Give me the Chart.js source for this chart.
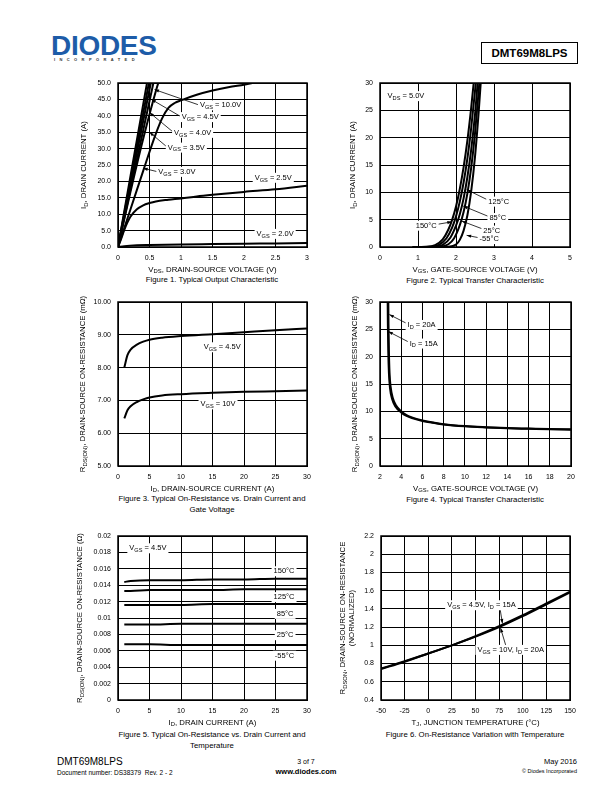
<!DOCTYPE html>
<html>
<head>
<meta charset="utf-8">
<script src="https://cdn.jsdelivr.net/npm/chart.js@4.4.0/dist/chart.umd.min.js"></script>
<style>
body{margin:0;background:#fff;font-family:"Liberation Sans",Arial,sans-serif;color:#000}
#page{position:relative;width:612px;height:792px;overflow:hidden;background:#fff}
canvas{position:absolute}
.t{position:absolute;white-space:nowrap}
.cap{position:absolute;font-size:7.8px;text-align:center;width:300px;line-height:11px;white-space:nowrap}
</style>
</head>
<body>
<div id="page">
  <div class="t" style="left:51px;top:32px;font-weight:bold;font-size:28px;line-height:28px;color:#1d5ca8;letter-spacing:-0.3px">DIODES</div>
  <div class="t" style="left:54px;top:57px;font-weight:bold;font-size:4px;line-height:5px;letter-spacing:4.4px;color:#333">INCORPORATED</div>
  <div class="t" style="left:481px;top:42px;width:95px;height:20px;border:1px solid #000;font-weight:bold;font-size:11.5px;line-height:20px;text-align:center">DMT69M8LPS</div>

  <div class="cap" style="left:62px;top:274px">Figure 1. Typical Output Characteristic</div>
  <div class="cap" style="left:325px;top:275px">Figure 2. Typical Transfer Characteristic</div>
  <div class="cap" style="left:62px;top:493px">Figure 3. Typical On-Resistance vs. Drain Current and<br>Gate Voltage</div>
  <div class="cap" style="left:325px;top:494px">Figure 4. Typical Transfer Characteristic</div>
  <div class="cap" style="left:62px;top:729px">Figure 5. Typical On-Resistance vs. Drain Current and<br>Temperature</div>
  <div class="cap" style="left:325px;top:729px">Figure 6. On-Resistance Variation with Temperature</div>

  <div class="t" style="left:57px;top:756px;font-size:10px;line-height:12px">DMT69M8LPS</div>
  <div class="t" style="left:57px;top:769px;font-size:6.5px;line-height:8px">Document number: DS38379&nbsp; Rev. 2 - 2</div>
  <div class="t" style="left:256px;width:100px;top:757px;font-size:7px;line-height:9px;text-align:center">3 of 7</div>
  <div class="t" style="left:256px;width:100px;top:767px;font-size:7.5px;line-height:10px;font-weight:bold;text-align:center">www.diodes.com</div>
  <div class="t" style="right:35px;top:757px;font-size:7.5px;line-height:10px">May 2016</div>
  <div class="t" style="right:35px;top:768px;font-size:5.5px;line-height:7px">© Diodes Incorporated</div>
</div>
<script>
// ---------- data ----------

// Figure 1: typical output characteristic, points are [VDS (V), ID (A)]
var outVgs10 = [[0,0],[0.2,21.8],[0.4,43.5],[0.5,54.3]];
var outVgs8 = [[0,0],[0.2,20.4],[0.4,40.8],[0.52,53]];
var outVgs45 = [[0,0],[0.2,19.2],[0.4,38.4],[0.55,52.8]];
var outVgs40 = [[0,0],[0.2,17.8],[0.4,35.6],[0.6,53.4]];
var outVgs35 = [[0,0],[0.2,17],[0.4,33],[0.6,47.5],[0.68,52.5]];
var outVgs30 = [[0,0],[0.1,5.8],[0.2,11.6],[0.3,17.4],[0.4,23.2],[0.5,29],[0.6,34.5],[0.7,39.2],[0.8,42.4],[0.9,43.9],[1.0,44.7],[1.25,46.4],[1.5,47.7],[1.75,48.7],[2.0,49.5],[2.2,50.2]];
var outVgs25 = [[0,0],[0.05,2.5],[0.1,5.2],[0.15,7.5],[0.2,9.3],[0.3,11.5],[0.4,12.7],[0.5,13.4],[0.6,13.9],[0.8,14.4],[1.0,14.8],[1.25,15.4],[1.5,15.9],[2.0,16.8],[2.5,17.6],[3.0,18.7]];
var outVgs20 = [[0,0],[0.1,0.25],[0.3,0.5],[0.5,0.6],[1.0,0.8],[1.5,0.9],[2.0,1.0],[2.5,1.1],[3.0,1.2]];

// Figure 2: typical transfer characteristic, [VGS (V), ID (A)]
var trn150 = [[0.85,0],[1.2,0.05],[1.45,0.35],[1.65,1.4],[1.8,3.2],[1.9,5.0],[2.0,7.4],[2.1,10.6],[2.2,14.6],[2.3,19.5],[2.4,25.5],[2.48,31]];
var trn125 = [[0.95,0],[1.3,0.05],[1.55,0.4],[1.75,1.6],[1.9,3.6],[2.0,5.6],[2.1,8.3],[2.2,11.8],[2.3,16.2],[2.4,21.8],[2.5,28.5],[2.54,31.5]];
var trn85 = [[1.05,0],[1.4,0.05],[1.65,0.4],[1.85,1.7],[2.0,3.9],[2.1,6.0],[2.2,8.9],[2.3,12.8],[2.4,17.8],[2.5,24.2],[2.58,31]];
var trn25 = [[1.2,0],[1.55,0.05],[1.8,0.5],[1.95,1.6],[2.1,4.0],[2.2,6.4],[2.3,9.8],[2.4,14.5],[2.5,20.8],[2.6,28.8],[2.63,31.5]];
var trnM55 = [[1.5,0],[1.8,0.05],[2.0,0.45],[2.1,1.3],[2.2,3.0],[2.3,5.8],[2.4,10.2],[2.5,16.5],[2.6,25],[2.66,31]];

// Figure 3: on-resistance (mOhm) vs drain current (A)
var f3Id = [1,1.5,2,3,4,5,7,10,15,20,25,30];
var f3Vgs45 = [8.0,8.38,8.55,8.7,8.79,8.85,8.91,8.96,9.02,9.08,9.14,9.19];
var f3Vgs10 = [6.45,6.7,6.82,6.95,7.03,7.09,7.15,7.19,7.23,7.26,7.28,7.3];

// Figure 4: on-resistance (mOhm) vs gate voltage, [VGS (V), R (mOhm)]
var f4Id20 = [[2.78,31],[2.8,26],[2.84,21],[2.9,17],[3.0,14.5],[3.2,12.5],[3.5,11.1],[4,10],[4.5,9.3],[5,8.9],[6,8.35],[7,7.95],[8,7.65],[10,7.3],[12,7.1],[14,6.95],[16,6.85],[18,6.75],[20,6.7]];
var f4Id15 = [[2.72,31],[2.74,26],[2.78,21],[2.84,17],[2.94,14.3],[3.15,12.2],[3.45,10.9],[4,9.8],[4.5,9.15],[5,8.75],[6,8.25],[7,7.9],[8,7.6],[10,7.25],[12,7.05],[14,6.9],[16,6.8],[18,6.7],[20,6.65]];

// Figure 5: on-resistance (Ohm) vs drain current at several temperatures
var f5Id = [1,2,5,10,15,20,25,30];
var f5T150 = [0.0144,0.0145,0.0146,0.0146,0.0147,0.0147,0.0148,0.0148];
var f5T125 = [0.0133,0.0133,0.0134,0.0134,0.0134,0.0135,0.0135,0.0135];
var f5T85 = [0.0116,0.0116,0.0116,0.0116,0.0117,0.0117,0.0117,0.0117];
var f5T25 = [0.0092,0.0092,0.0092,0.0093,0.0093,0.0093,0.0093,0.0093];
var f5Tm55 = [0.0068,0.0068,0.0068,0.0067,0.0067,0.0067,0.0067,0.0067];

// Figure 6: normalized on-resistance vs junction temperature
var f6Tj = [-50,-25,0,25,50,75,100,125,150];
var f6Vgs45 = [0.74,0.82,0.91,1.0,1.1,1.21,1.33,1.46,1.59];
var f6Vgs10 = [0.745,0.825,0.91,1.0,1.095,1.2,1.32,1.45,1.58];

// ---------- drawing ----------
var FONT = '"Liberation Sans", Arial, sans-serif';
Chart.defaults.font.family = FONT;
Chart.defaults.font.size = 7;
Chart.defaults.color = '#000';

function zip(xs, ys){ return xs.map(function(x, i){ return [x, ys[i]]; }); }

// text with _{...} subscripts
function parts(str){
	var out = [], re = /_\{([^}]*)\}/g, last = 0, m;
	while ((m = re.exec(str))) {
		if (m.index > last) out.push({t: str.slice(last, m.index), sub: false});
		out.push({t: m[1], sub: true});
		last = re.lastIndex;
	}
	if (last < str.length) out.push({t: str.slice(last), sub: false});
	return out;
}
function richWidth(ctx, str, size){
	var w = 0;
	parts(str).forEach(function(p){
		ctx.font = (p.sub ? size * 0.75 : size) + 'px ' + FONT;
		w += ctx.measureText(p.t).width;
	});
	return w;
}
function drawRich(ctx, str, x, y, size, align){
	var w = richWidth(ctx, str, size);
	var cx = align === 'center' ? x - w / 2 : (align === 'right' ? x - w : x);
	ctx.textBaseline = 'middle';
	ctx.textAlign = 'left';
	parts(str).forEach(function(p){
		ctx.font = (p.sub ? size * 0.75 : size) + 'px ' + FONT;
		ctx.fillText(p.t, cx, p.sub ? y + size * 0.3 : y);
		cx += ctx.measureText(p.t).width;
	});
	return w;
}
function arrow(ctx, x1, y1, x2, y2){
	ctx.lineWidth = 0.8;
	ctx.beginPath(); ctx.moveTo(x1, y1); ctx.lineTo(x2, y2); ctx.stroke();
	var a = Math.atan2(y2 - y1, x2 - x1), L = 4.5, W = 1.6;
	ctx.beginPath();
	ctx.moveTo(x2, y2);
	ctx.lineTo(x2 - L * Math.cos(a) + W * Math.sin(a), y2 - L * Math.sin(a) - W * Math.cos(a));
	ctx.lineTo(x2 - L * Math.cos(a) - W * Math.sin(a), y2 - L * Math.sin(a) + W * Math.cos(a));
	ctx.closePath(); ctx.fill();
}

var sheetPlugin = {
	id: 'sheet',
	afterDatasetsDraw: function(chart, args, opts){
		var ctx = chart.ctx, a = chart.chartArea, xs = chart.scales.x, ys = chart.scales.y;
		ctx.save();
		ctx.strokeStyle = '#000'; ctx.fillStyle = '#000';
		ctx.lineWidth = 1.5;
		ctx.strokeRect(a.left, a.top, a.right - a.left, a.bottom - a.top);
		(opts.notes || []).forEach(function(n){
			var px = xs.getPixelForValue(n.x), py = ys.getPixelForValue(n.y);
			var w = richWidth(ctx, n.text, 7.5);
			if (n.to) {
				var f = n.from || [n.x, n.y];
				ctx.strokeStyle = '#000'; ctx.fillStyle = '#000';
				arrow(ctx, xs.getPixelForValue(f[0]), ys.getPixelForValue(f[1]),
					xs.getPixelForValue(n.to[0]), ys.getPixelForValue(n.to[1]));
			}
			ctx.fillStyle = '#fff';
			ctx.fillRect(px - 2, py - 5, w + 4, 10);
			ctx.fillStyle = '#000';
			drawRich(ctx, n.text, px, py, 7.5, 'left');
		});
		// axis titles
		drawRich(ctx, opts.xTitle, (a.left + a.right) / 2, a.bottom + 22.5, 7.8, 'center');
		opts.yTitles.forEach(function(t, i){
			ctx.save();
			ctx.translate(a.left - opts.yGaps[i], (a.top + a.bottom) / 2);
			ctx.rotate(-Math.PI / 2);
			drawRich(ctx, t, 0, 0, 7.8, 'center');
			ctx.restore();
		});
		ctx.restore();
	}
};

var page = document.getElementById('page');

function makeChart(box, cfg){
	var padL = 75, padT = 12, padR = 15, padB = 32;
	var cv = document.createElement('canvas');
	cv.width = box.r - box.l + padL + padR;
	cv.height = box.b - box.t + padT + padB;
	cv.style.left = (box.l - padL) + 'px';
	cv.style.top = (box.t - padT) + 'px';
	page.appendChild(cv);
	function axis(s, fit){
		return {
			type: 'linear', min: s.min, max: s.max,
			ticks: {stepSize: s.step, padding: s.pad, autoSkip: false, maxRotation: 0, color: '#000',
				font: {size: 7}, callback: s.fmt},
			grid: {color: '#000', lineWidth: 1, drawTicks: false},
			border: {color: '#000', width: 1},
			afterFit: fit
		};
	}
	return new Chart(cv.getContext('2d'), {
		type: 'scatter',
		data: {
			datasets: cfg.series.map(function(s){
				return {
					data: s.map(function(p){ return {x: p[0], y: p[1]}; }),
					showLine: true, borderColor: '#000', borderWidth: 2, pointRadius: 0,
					cubicInterpolationMode: 'monotone'
				};
			})
		},
		options: {
			responsive: false, animation: false, devicePixelRatio: 1,
			layout: {padding: {top: padT, right: padR, left: 0, bottom: 0}},
			plugins: {
				legend: {display: false}, tooltip: {enabled: false},
				sheet: {xTitle: cfg.xTitle, yTitles: cfg.yTitles, yGaps: cfg.yGaps, notes: cfg.notes}
			},
			scales: {
				x: axis(cfg.x, function(s){ s.height = padB; }),
				y: axis(cfg.y, function(s){ s.width = padL; })
			}
		},
		plugins: [sheetPlugin]
	});
}

function fixed(d){ return function(v){ return v.toFixed(d); }; }
function plain(d){ return function(v){ return String(+v.toFixed(d)); }; }

makeChart({l: 118, t: 83, r: 307, b: 247}, {
	series: [outVgs10, outVgs8, outVgs45, outVgs40, outVgs35, outVgs30, outVgs25, outVgs20],
	x: {min: 0, max: 3, step: 0.5, pad: 7, fmt: plain(1)},
	y: {min: 0, max: 50, step: 5, pad: 7, fmt: fixed(1)},
	xTitle: 'V_{DS}, DRAIN-SOURCE VOLTAGE (V)',
	yTitles: ['I_{D}, DRAIN CURRENT (A)'], yGaps: [34],
	notes: [
		{text: 'V_{GS} = 10.0V', x: 1.3, y: 43.2, to: [0.58, 48]},
		{text: 'V_{GS} = 4.5V', x: 1.01, y: 39.6, to: [0.53, 45]},
		{text: 'V_{GS} = 4.0V', x: 0.89, y: 34.8, to: [0.5, 41]},
		{text: 'V_{GS} = 3.5V', x: 0.79, y: 30.3, to: [0.5, 35]},
		{text: 'V_{GS} = 3.0V', x: 0.64, y: 22.9, to: [0.4, 24]},
		{text: 'V_{GS} = 2.5V', x: 2.17, y: 21.1},
		{text: 'V_{GS} = 2.0V', x: 2.2, y: 4.0}
	]
});

makeChart({l: 380, t: 83, r: 570, b: 247}, {
	series: [trn150, trn125, trn85, trn25, trnM55],
	x: {min: 0, max: 5, step: 1, pad: 7, fmt: plain(0)},
	y: {min: 0, max: 30, step: 5, pad: 7, fmt: plain(0)},
	xTitle: 'V_{GS}, GATE-SOURCE VOLTAGE (V)',
	yTitles: ['I_{D}, DRAIN CURRENT (A)'], yGaps: [27],
	notes: [
		{text: 'V_{DS} = 5.0V', x: 0.2, y: 27.6},
		{text: '125\u00b0C', x: 2.85, y: 8.3, from: [2.81, 8.7], to: [2.28, 10.5]},
		{text: '85\u00b0C', x: 2.88, y: 5.3, from: [2.85, 5.6], to: [2.19, 7.5]},
		{text: '25\u00b0C', x: 2.72, y: 3.0, from: [2.7, 3.3], to: [2.15, 4.75]},
		{text: '-55\u00b0C', x: 2.62, y: 1.45, from: [2.6, 1.7], to: [2.28, 2.13]},
		{text: '150\u00b0C', x: 0.94, y: 3.9, from: [1.47, 4.1], to: [1.89, 4.6]}
	]
});

makeChart({l: 118, t: 302, r: 307, b: 466}, {
	series: [zip(f3Id, f3Vgs45), zip(f3Id, f3Vgs10)],
	x: {min: 0, max: 30, step: 5, pad: 7, fmt: plain(0)},
	y: {min: 5, max: 10, step: 1, pad: 7, fmt: fixed(2)},
	xTitle: 'I_{D}, DRAIN-SOURCE CURRENT (A)',
	yTitles: ['R_{DS(ON)}, DRAIN-SOURCE ON-RESISTANCE (m\u03a9)'], yGaps: [35],
	notes: [
		{text: 'V_{GS} = 4.5V', x: 13.6, y: 8.62},
		{text: 'V_{GS} = 10V', x: 13.1, y: 6.88}
	]
});

makeChart({l: 380, t: 302, r: 571, b: 466}, {
	series: [f4Id20, f4Id15],
	x: {min: 2, max: 20, step: 2, pad: 7, fmt: plain(0)},
	y: {min: 0, max: 30, step: 5, pad: 7, fmt: plain(0)},
	xTitle: 'V_{GS}, GATE-SOURCE VOLTAGE (V)',
	yTitles: ['R_{DS(ON)}, DRAIN-SOURCE ON-RESISTANCE (m\u03a9)'], yGaps: [25],
	notes: [
		{text: 'I_{D} = 20A', x: 4.6, y: 25.8, from: [4.5, 26.1], to: [2.88, 27.7]},
		{text: 'I_{D} = 15A', x: 4.8, y: 22.4, from: [4.68, 22.7], to: [2.79, 24.6]}
	]
});

makeChart({l: 118, t: 536, r: 307, b: 700}, {
	series: [zip(f5Id, f5T150), zip(f5Id, f5T125), zip(f5Id, f5T85), zip(f5Id, f5T25), zip(f5Id, f5Tm55)],
	x: {min: 0, max: 30, step: 5, pad: 7, fmt: plain(0)},
	y: {min: 0, max: 0.02, step: 0.002, pad: 7, fmt: plain(3)},
	xTitle: 'I_{D}, DRAIN CURRENT (A)',
	yTitles: ['R_{DS(ON)}, DRAIN-SOURCE ON-RESISTANCE (\u03a9)'], yGaps: [38],
	notes: [
		{text: 'V_{GS} = 4.5V', x: 1.8, y: 0.0185},
		{text: '150\u00b0C', x: 24.7, y: 0.0157},
		{text: '125\u00b0C', x: 24.7, y: 0.01255},
		{text: '85\u00b0C', x: 25.2, y: 0.0105},
		{text: '25\u00b0C', x: 25.2, y: 0.0079},
		{text: '-55\u00b0C', x: 24.9, y: 0.0054}
	]
});

makeChart({l: 381, t: 536, r: 570, b: 700}, {
	series: [zip(f6Tj, f6Vgs45), zip(f6Tj, f6Vgs10)],
	x: {min: -50, max: 150, step: 25, pad: 7, fmt: plain(0)},
	y: {min: 0.4, max: 2.2, step: 0.2, pad: 7, fmt: plain(1)},
	xTitle: 'T_{J}, JUNCTION TEMPERATURE (\u00b0C)',
	yTitles: ['R_{DSON}, DRAIN-SOURCE ON-RESISTANCE', '(NORMALIZED)'], yGaps: [38, 29],
	notes: [
		{text: 'V_{GS} = 4.5V, I_{D} = 15A', x: 20, y: 1.44, from: [76, 1.4], to: [78.5, 1.24]},
		{text: 'V_{GS} = 10V, I_{D} = 20A', x: 52, y: 0.95, from: [82, 1.0], to: [76.5, 1.19]}
	]
});
</script>
</body>
</html>
